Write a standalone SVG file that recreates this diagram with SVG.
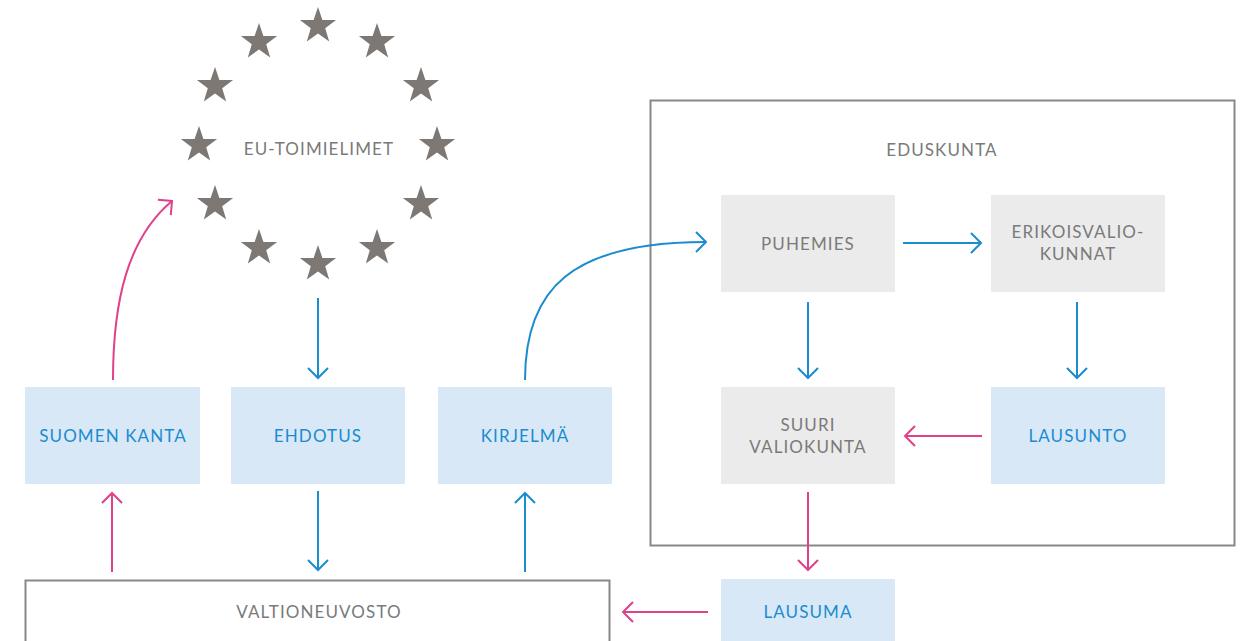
<svg xmlns="http://www.w3.org/2000/svg" width="1243" height="641" viewBox="0 0 1243 641">
<style>
text{font-family:Lato,"Open Sans","Liberation Sans",sans-serif;font-size:17px;text-anchor:middle;letter-spacing:1.1px}
.g{fill:#7a7a7a}
.b{fill:#1a8ccf}
.bf{fill:#d9e8f7}
.gf{fill:#ebebeb}
.frame{fill:none;stroke:#888;stroke-width:2}
.cb{fill:none;stroke:#1a8ccf;stroke-width:2;marker-end:url(#mb)}
.cp{fill:none;stroke:#e0418a;stroke-width:2;marker-end:url(#mp)}
.star{fill:#7d7874}
</style>
<defs>
<marker id="mb" markerUnits="userSpaceOnUse" viewBox="-12 -12 14 24" markerWidth="14" markerHeight="24" refX="0" refY="0" orient="auto"><path d="M-10,-10 L0,0 L-10,10" fill="none" stroke="#1a8ccf" stroke-width="2"/></marker>
<marker id="mp" markerUnits="userSpaceOnUse" viewBox="-12 -12 14 24" markerWidth="14" markerHeight="24" refX="0" refY="0" orient="auto"><path d="M-10,-10 L0,0 L-10,10" fill="none" stroke="#e0418a" stroke-width="2"/></marker>
<path id="st" d="M0,-19 L4.4,-6.1 L18.1,-5.9 L7.2,2.3 L11.2,15.4 L0,7.6 L-11.2,15.4 L-7.2,2.3 L-18.1,-5.9 L-4.4,-6.1 Z"/>
</defs>
<g id="eu">
<use href="#st" class="star" x="318" y="26"/>
<use href="#st" class="star" x="377" y="42"/>
<use href="#st" class="star" x="421" y="86"/>
<use href="#st" class="star" x="437" y="145"/>
<use href="#st" class="star" x="421" y="204"/>
<use href="#st" class="star" x="377" y="248"/>
<use href="#st" class="star" x="318" y="264"/>
<use href="#st" class="star" x="259" y="248"/>
<use href="#st" class="star" x="215" y="204"/>
<use href="#st" class="star" x="199" y="145"/>
<use href="#st" class="star" x="215" y="86"/>
<use href="#st" class="star" x="259" y="42"/>
<text class="g" x="319" y="155">EU-TOIMIELIMET</text>
</g>
<g id="eduskunta"><rect class="frame" x="650.5" y="100.5" width="584" height="445"/><text class="g" x="942" y="156">EDUSKUNTA</text></g>
<g id="suomen-kanta"><rect class="bf" x="25" y="387" width="175" height="97"/><text class="b" x="113" y="442">SUOMEN KANTA</text></g>
<g id="ehdotus"><rect class="bf" x="231" y="387" width="174" height="97"/><text class="b" x="318" y="442">EHDOTUS</text></g>
<g id="kirjelma"><rect class="bf" x="438" y="387" width="174" height="97"/><text class="b" x="525" y="442">KIRJELMÄ</text></g>
<g id="valtioneuvosto"><rect class="frame" x="25.5" y="580.5" width="584" height="70"/><text class="g" x="319" y="618">VALTIONEUVOSTO</text></g>
<g id="puhemies"><rect class="gf" x="721" y="195" width="174" height="97"/><text class="g" x="808" y="250">PUHEMIES</text></g>
<g id="erikoisvaliokunnat"><rect class="gf" x="991" y="195" width="174" height="97"/><text class="g" x="1078" y="238">ERIKOISVALIO-</text><text class="g" x="1078" y="260">KUNNAT</text></g>
<g id="suuri-valiokunta"><rect class="gf" x="721" y="387" width="174" height="97"/><text class="g" x="808" y="431">SUURI</text><text class="g" x="808" y="453">VALIOKUNTA</text></g>
<g id="lausunto"><rect class="bf" x="991" y="387" width="174" height="97"/><text class="b" x="1078" y="442">LAUSUNTO</text></g>
<g id="lausuma"><rect class="bf" x="721" y="579" width="174" height="70"/><text class="b" x="808" y="618">LAUSUMA</text></g>
<g id="connectors">
<path class="cb" d="M318,298 L318,378"/>
<path class="cb" d="M318,491 L318,570"/>
<path class="cb" d="M525,572 L525,493"/>
<path class="cp" d="M112,572 L112,493"/>
<path class="cp" d="M113,380 C113,300 128,238 172,201"/>
<path class="cb" d="M525,380 C525,290 570,242 706,242"/>
<path class="cb" d="M903,243 L981,243"/>
<path class="cb" d="M808,302 L808,378"/>
<path class="cb" d="M1077,302 L1077,378"/>
<path class="cp" d="M982,436 L905,436"/>
<path class="cp" d="M808,492 L808,570"/>
<path class="cp" d="M708,612 L623,612"/>
</g>
</svg>
